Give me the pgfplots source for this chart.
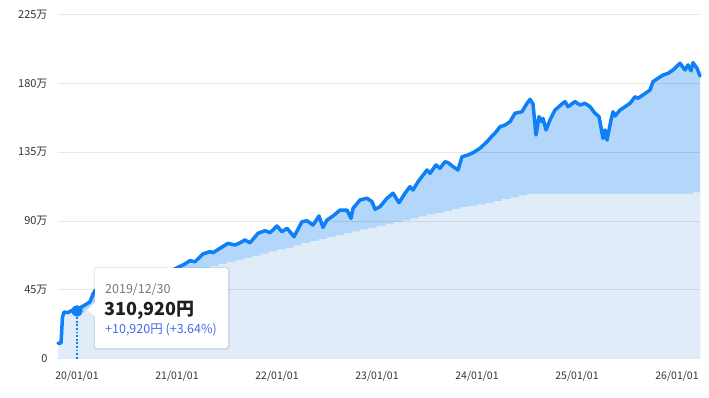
\documentclass[border=0pt]{standalone}
\usepackage{fontspec}
\setmainfont{Noto Sans CJK JP}
\usepackage{pgfplots}
\usepackage{pgfplotstable}
\pgfplotsset{compat=1.18}
\definecolor{linec}{RGB}{14,127,246}
\definecolor{midc}{RGB}{179,214,251}
\definecolor{lightc}{RGB}{224,236,248}
\definecolor{tickc}{RGB}{51,51,51}
\definecolor{datec}{RGB}{120,120,120}
\definecolor{gainc}{RGB}{70,105,240}

% x = years after 2020-01-01
\pgfplotstableread{
x v
-0.19 10.1
-0.16 10.1
-0.145 27.0
-0.13 30.4
-0.09 30.0
-0.05 31.5
-0.02 32.0
0.00 31.1
0.04 33.5
0.08 35.0
0.13 37.1
0.16 42.2
0.18 44.5
0.25 40.0
0.35 44.0
0.50 48.0
0.65 51.0
0.80 54.0
0.95 57.5
1.01 59.7
1.07 61.5
1.13 64.0
1.18 63.3
1.26 68.4
1.33 69.9
1.36 69.2
1.43 72.1
1.51 75.3
1.58 74.2
1.63 75.7
1.68 77.5
1.73 75.7
1.81 81.9
1.88 83.6
1.93 82.3
2.00 86.7
2.05 82.9
2.10 85.2
2.17 79.7
2.25 89.5
2.30 90.1
2.36 87.3
2.42 93.2
2.46 85.8
2.50 90.6
2.56 93.2
2.63 97.1
2.70 97.1
2.74 91.7
2.76 98.2
2.83 103.7
2.90 104.8
2.95 102.6
2.98 97.6
3.03 99.3
3.10 104.8
3.16 108.1
3.22 101.9
3.28 108.1
3.33 112.4
3.36 110.2
3.41 115.6
3.50 123.3
3.53 121.1
3.59 126.6
3.63 124.4
3.68 128.7
3.71 128.1
3.76 125.5
3.81 123.3
3.85 132.0
3.91 133.1
3.96 134.6
4.03 137.5
4.10 141.8
4.16 146.2
4.18 147.3
4.23 151.6
4.28 152.7
4.33 154.9
4.38 160.4
4.45 161.4
4.50 166.9
4.53 169.5
4.56 166.5
4.59 146.2
4.62 158.2
4.65 154.9
4.66 157.1
4.69 149.5
4.73 156.0
4.78 162.5
4.85 166.5
4.88 168.0
4.91 164.7
4.98 168.0
5.03 165.8
5.08 166.9
5.13 164.7
5.18 160.4
5.22 158.2
5.26 144.0
5.28 149.5
5.30 142.9
5.34 156.0
5.36 161.4
5.38 158.6
5.43 162.5
5.48 164.7
5.53 166.9
5.58 171.2
5.61 170.2
5.66 172.4
5.73 175.6
5.76 181.1
5.81 183.3
5.86 185.4
5.91 186.5
5.96 188.7
6.03 193.1
6.08 188.7
6.11 192.0
6.14 188.2
6.16 193.5
6.20 189.8
6.23 184.8
}\valuetable

\pgfplotstableread{
x v
-0.19 10.0
-0.145 30.0
0.083 32.0
0.167 34.0
0.25 36.0
0.333 38.0
0.417 40.0
0.5 42.0
0.583 43.8
0.667 45.6
0.75 47.4
0.833 49.2
0.917 51.0
1.0 52.8
1.083 54.6
1.167 56.6
1.25 58.6
1.333 60.5
1.417 61.8
1.5 63.0
1.583 64.4
1.667 65.8
1.75 67.2
1.833 68.6
1.917 70.0
2.0 71.3
2.083 72.6
2.167 74.0
2.25 75.4
2.333 76.7
2.417 78.0
2.5 79.4
2.583 80.7
2.667 82.0
2.75 83.2
2.833 84.4
2.917 85.6
3.0 86.8
3.083 88.0
3.167 89.2
3.25 90.4
3.333 91.7
3.417 93.0
3.5 94.2
3.583 95.2
3.667 96.4
3.75 97.8
3.833 99.0
3.917 99.8
4.0 100.8
4.083 101.8
4.167 103.0
4.25 104.2
4.333 105.4
4.417 106.7
4.5 107.6
6.16 108.7
6.23 108.7
}\basetable

\begin{document}
\begin{tikzpicture}[x=1pt,y=1pt]
\begin{axis}[
  at={(58pt,38.5pt)}, anchor=south west,
  scale only axis, width=642pt, height=344pt,
  xmin=-0.19, xmax=6.23, ymin=0, ymax=225,
  axis line style={draw=none},
  tick style={draw=none}, major tick length=0pt,
  xtick={0,1,2,3,4,5,6},
  xticklabels={20/01/01,21/01/01,22/01/01,23/01/01,24/01/01,25/01/01,26/01/01},
  ytick={0,45,90,135,180,225},
  yticklabels={0,45万,90万,135万,180万,225万},
  ticklabel style={text=tickc},
  yticklabel style={anchor=east, xshift=-7pt, font=\fontsize{11}{13}\selectfont},
  xticklabel style={anchor=north, yshift=-9pt, font=\fontsize{10.5}{12}\selectfont},
  clip=false,
]
\addplot[fill=midc, draw=none] table[x=x,y=v] {\valuetable} \closedcycle;
\addplot[fill=lightc, draw=none, const plot] table[x=x,y=v] {\basetable} \closedcycle;
% horizontal grid lines
\addplot[black, opacity=0.09, line width=0.8pt] coordinates {(-0.19,45) (6.23,45)};
\addplot[black, opacity=0.09, line width=0.8pt] coordinates {(-0.19,90) (6.23,90)};
\addplot[black, opacity=0.09, line width=0.8pt] coordinates {(-0.19,135) (6.23,135)};
\addplot[black, opacity=0.09, line width=0.8pt] coordinates {(-0.19,180) (6.23,180)};
\addplot[black, opacity=0.09, line width=0.8pt] coordinates {(-0.19,225) (6.23,225)};
\addplot[linec, line width=3.5pt, line join=round, line cap=round] table[x=x,y=v] {\valuetable};
\addplot[linec, line width=1.2pt, dash pattern=on 1.8pt off 1.8pt] coordinates {(0,0) (0,31.1)};
\addplot[only marks, mark=*, mark size=5.5pt, color=linec] coordinates {(0,31.1)};
\end{axis}
% tooltip
\fill[black, opacity=0.05, rounded corners=3pt] (93.5,47) rectangle (230,130.5);
\fill[black, opacity=0.05, rounded corners=3pt] (94.5,48) rectangle (229,129.5);
\fill[white, rounded corners=2.5pt] (95,49) rectangle (228,129);
\fill[white] (96,96) -- (87,87) -- (96,80) -- cycle;
\node[anchor=base west, inner sep=0, text=datec, font=\fontsize{12.5}{14}\selectfont] at (105,104) {2019/12/30};
\node[anchor=base west, inner sep=0, text=black!88, font=\fontsize{18}{20}\selectfont\bfseries] at (104.5,82) {310,920円};
\node[anchor=base west, inner sep=0, text=gainc, font=\fontsize{12.5}{14}\selectfont] at (105,63.5) {+10,920円 (+3.64\%)};
\path[use as bounding box] (0,0) rectangle (709,397);
\end{tikzpicture}
\end{document}
